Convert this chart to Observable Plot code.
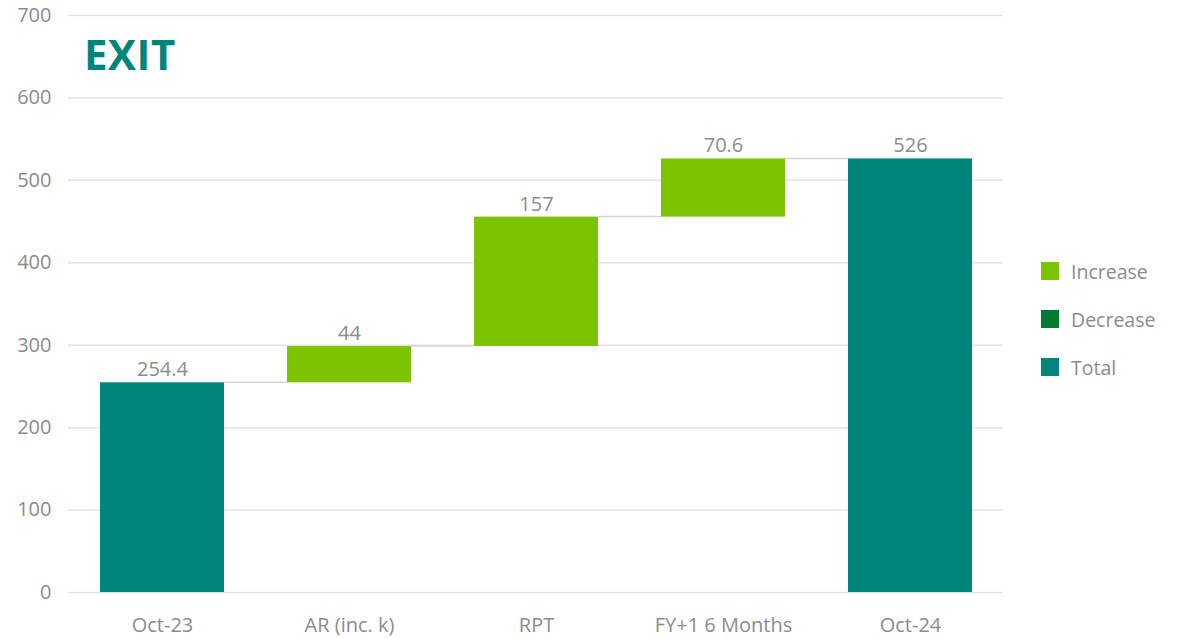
<!DOCTYPE html>
<html>
<head>
<meta charset="utf-8">
<script src="https://cdn.jsdelivr.net/npm/d3@7"></script>
<script src="https://cdn.jsdelivr.net/npm/@observablehq/plot@0.6"></script>
<style>
  html, body { margin: 0; padding: 0; background: #fff; }
  #wrap { position: relative; width: 1185px; height: 638px; font-family: "Open Sans", "Noto Sans", sans-serif; }
  #title { position: absolute; left: 84px; top: 25px; font-size: 42px; font-weight: 700; color: #00857A; letter-spacing: 0.5px; }
  #legend { position: absolute; left: 1041px; top: 247px; }
  .li { display: flex; align-items: center; height: 48px; font-size: 19.5px; color: #8c8c8c; }
  .sw { width: 18px; height: 18px; margin-right: 12px; }
</style>
</head>
<body>
<div id="wrap">
  <div id="chart"></div>
  <div id="title">EXIT</div>
  <div id="legend"></div>
</div>
<script>
const categories = ["Oct-23", "AR (inc. k)", "RPT", "FY+1 6 Months", "Oct-24"];
const values = [254.4, 44, 157, 70.6, 526];
const kinds = ["Total", "Increase", "Increase", "Increase", "Total"];
const labels = ["254.4", "44", "157", "70.6", "526"];
const yTicks = [0, 100, 200, 300, 400, 500, 600, 700];
const legendNames = ["Increase", "Decrease", "Total"];
const legendColors = ["#7DC400", "#007A33", "#00857A"];

// build waterfall table
let running = 0;
const rows = categories.map((c, i) => {
  let y1, y2;
  if (kinds[i] === "Total") { y1 = 0; y2 = values[i]; running = values[i]; }
  else if (kinds[i] === "Increase") { y1 = running; y2 = running + values[i]; running = y2; }
  else { y1 = running; y2 = running - values[i]; running = y2; }
  return {cat: c, kind: kinds[i], y1, y2, top: Math.max(y1, y2), end: running, label: labels[i], idx: i};
});
const connectors = rows.slice(0, -1).map((r, i) => ({from: r.cat, to: rows[i + 1].cat, y: r.end}));

const width = 1185, height = 638;
const mL = 68, mR = 182;
const fs = 20;

const chart = Plot.plot({
  width, height,
  marginLeft: mL, marginRight: mR, marginTop: 15, marginBottom: 46,
  style: {fontFamily: '"Open Sans", "Noto Sans", sans-serif', fontSize: fs + "px", color: "#8c8c8c", background: "#fff"},
  x: {domain: categories, paddingInner: 0.337, paddingOuter: 0.1685, align: 0.5, label: null},
  y: {domain: [0, 700], ticks: yTicks, label: null},
  color: {domain: legendNames, range: legendColors},
  marks: [
    Plot.ruleY(yTicks, {stroke: "#e3e3e3", strokeWidth: 1.5}),
    Plot.ruleX([0], {frameAnchor: "left", y1: 0, y2: 700, stroke: "#e3e3e3", strokeWidth: 1.5}),
    Plot.barY(rows, {x: "cat", y1: "y1", y2: "y2", fill: "kind"}),
    Plot.text(rows, {x: "cat", y: "top", text: "label", dy: -13, fill: "#8c8c8c", fontSize: fs}),
    Plot.axisY({ticks: yTicks, tickSize: 0, tickPadding: 17, fontSize: fs, fill: "#8c8c8c", label: null}),
    Plot.axisX({tickSize: 0, tickPadding: 25, fontSize: fs, fill: "#8c8c8c", label: null})
  ]
});
document.getElementById("chart").appendChild(chart);

// connector lines through Plot's own scales
const sx = chart.scale("x"), sy = chart.scale("y");
const bw = sx.bandwidth;
const svg = d3.select(chart);
svg.append("g").selectAll("line").data(connectors).join("line")
  .attr("x1", d => sx.apply(d.from) + bw)
  .attr("x2", d => sx.apply(d.to))
  .attr("y1", d => sy.apply(d.y))
  .attr("y2", d => sy.apply(d.y))
  .attr("stroke", "#d6d6d6").attr("stroke-width", 1.5);

const lg = document.getElementById("legend");
legendNames.forEach((n, i) => {
  const d = document.createElement("div"); d.className = "li";
  d.innerHTML = `<div class="sw" style="background:${legendColors[i]}"></div><span>${n}</span>`;
  lg.appendChild(d);
});
</script>
</body>
</html>
